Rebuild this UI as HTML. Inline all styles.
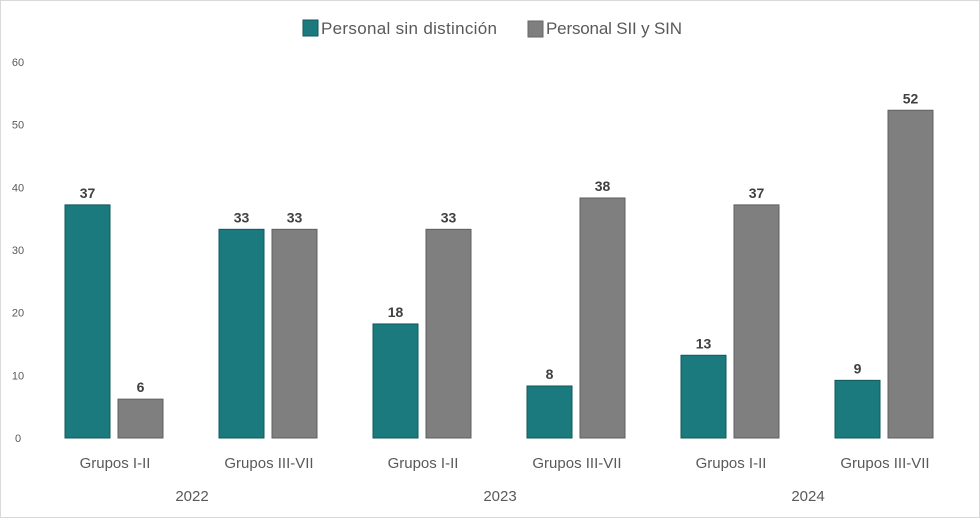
<!DOCTYPE html>
<html><head><meta charset="utf-8">
<style>
html,body{margin:0;padding:0;background:#fff;}
svg{display:block;font-family:"Liberation Sans",sans-serif;}
</style></head>
<body>
<svg id="chart" width="980" height="518" viewBox="0 0 980 518">
<rect x="0.5" y="0.5" width="979" height="517" fill="#fff" stroke="#d9d9d9"/>
<g id="legend">
 <g>
  <rect x="303" y="20" width="15" height="16" fill="#1a7a7e" stroke="#12585b"/>
  <text x="321" y="34" font-size="17" fill="#595959" textLength="176">Personal sin distinción</text>
 </g>
 <g>
  <rect x="528" y="21" width="15" height="16" fill="#7f7f7f" stroke="#666"/>
  <text x="546" y="34" font-size="17" fill="#595959" textLength="136">Personal SII y SIN</text>
 </g>
</g>
<g id="yaxis"></g>
<g id="bars"></g>
<g id="xaxis"></g>
</svg>
<script>
const categories = ["Grupos I-II","Grupos III-VII","Grupos I-II","Grupos III-VII","Grupos I-II","Grupos III-VII"];
const years = ["2022","2023","2024"];
const seriesSinDistincion = [37.2, 33.3, 18.2, 8.3, 13.2, 9.2];
const seriesSiiSin = [6.2, 33.3, 33.3, 38.3, 37.2, 52.3];
const yTicks = [0,10,20,30,40,50,60];

const NS="http://www.w3.org/2000/svg";
const plotLeft=37, plotRight=961, y0=438, yTop=62, yMax=60;
const catW=(plotRight-plotLeft)/categories.length;
function yScale(v){return y0-(v/yMax)*(y0-yTop);}
function xCenter(i){return plotLeft+catW*(i+0.5);}
function mk(tag,attrs,parent){const e=document.createElementNS(NS,tag);for(const k in attrs)e.setAttribute(k,attrs[k]);parent.appendChild(e);return e;}

const yaxis=document.getElementById('yaxis');
yTicks.forEach(t=>{
 const tx=mk('text',{x:18,y:yScale(t)+4,'font-size':11,fill:'#595959','text-anchor':'middle'},yaxis);
 tx.textContent=t;
 
 
});

const bars=document.getElementById('bars');
const bw=45, gap=8;
function drawBar(i,v,offset,fill,stroke,name){
 const x=xCenter(i)+offset;
 const r=mk('rect',{x:x,y:yScale(v),width:bw,height:y0-yScale(v),fill:fill,stroke:stroke,'stroke-width':1},bars);
 
 
 const t=mk('text',{x:x+bw/2,y:yScale(v)-7,'font-size':14,'font-weight':'bold',fill:'#404040','text-anchor':'middle'},bars);
 t.textContent=Math.round(v);
 
 
}
categories.forEach((c,i)=>{
 drawBar(i,seriesSinDistincion[i],-bw-gap/2,'#1a7a7e','#12585b','bar-sin-distincion-'+i);
 drawBar(i,seriesSiiSin[i],gap/2,'#7f7f7f','#5f5f5f','bar-sii-sin-'+i);
});

const xaxis=document.getElementById('xaxis');
categories.forEach((c,i)=>{
 const t=mk('text',{x:xCenter(i)+1,y:468,'font-size':15,fill:'#595959','text-anchor':'middle'},xaxis);
 t.textContent=c;
 
 
});
years.forEach((yr,j)=>{
 const cx=plotLeft+catW*(2*j+1)+1;
 const t=mk('text',{x:cx,y:501,'font-size':15,fill:'#595959','text-anchor':'middle'},xaxis);
 t.textContent=yr;
 
 
});
</script>
</body></html>
